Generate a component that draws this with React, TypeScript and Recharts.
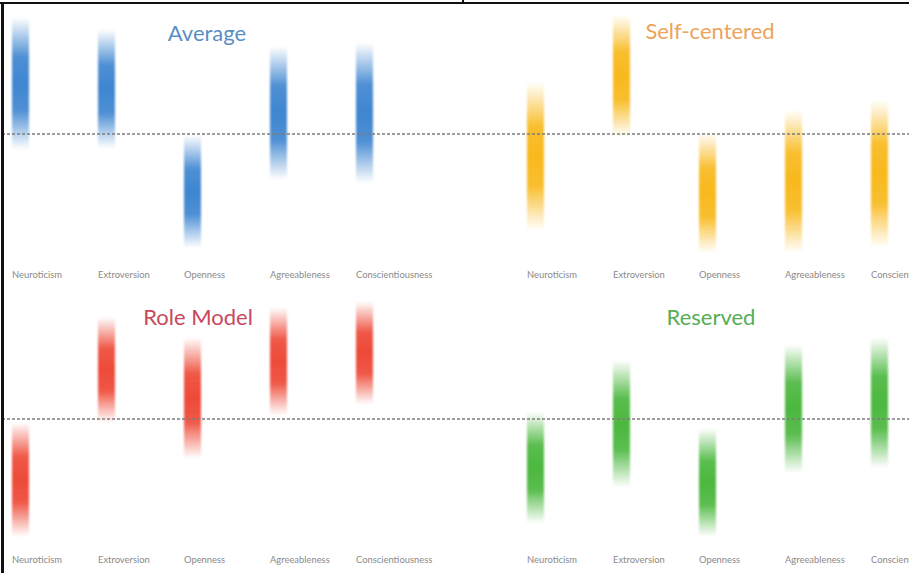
import React from 'react';
import { BarChart, Bar, XAxis, YAxis, ReferenceLine } from 'recharts';

const categories = ['Neuroticism', 'Extroversion', 'Openness', 'Agreeableness', 'Conscientiousness'];

const averageLow = [-0.13, -0.12, -0.95, -0.38, -0.41];
const averageHigh = [0.97, 0.87, -0.01, 0.73, 0.76];

const selfCenteredLow = [-0.8, -0.02, -0.99, -0.99, -0.94];
const selfCenteredHigh = [0.43, 0.99, 0.01, 0.2, 0.28];

const roleModelLow = [-0.98, -0.03, -0.33, 0.03, 0.12];
const roleModelHigh = [-0.03, 0.85, 0.68, 0.93, 0.98];

const reservedLow = [-0.87, -0.57, -0.98, -0.45, -0.41];
const reservedHigh = [0.06, 0.49, -0.08, 0.62, 0.68];

const FONT = 'Lato, "Open Sans", sans-serif';

const Tick = (props: any) => {
  const { x, y, payload } = props;
  return (
    <text x={x - 8} y={y + 16} fontSize={9.4} fill="#8a8a8a" fontFamily={FONT}>
      {payload.value}
    </text>
  );
};

type PanelProps = {
  id: string;
  title: string;
  titleColor: string;
  color: string;
  lows: number[];
  highs: number[];
  left: number;
  top: number;
  width: number;
  padRight: number;
  titleX: number;
  titleY: number;
};

const Panel = ({ id, title, titleColor, color, lows, highs, left, top, width, padRight, titleX, titleY }: PanelProps) => {
  const data = categories.map((name, i) => ({ name, range: [lows[i], highs[i]] }));
  const gid = `grad-${id}`;
  const fid = `blur-${id}`;
  const Shape = (p: any) => {
    const { x, y, width: w, height: h } = p;
    const yy = h < 0 ? y + h : y;
    const hh = Math.abs(h);
    return <rect x={x} y={yy} width={w} height={hh} fill={`url(#${gid})`} filter={`url(#${fid})`} />;
  };
  return (
    <>
      <div style={{ position: 'absolute', left, top }}>
        <BarChart width={width} height={290} data={data} margin={{ top: 14, right: 0, bottom: 6, left: 0 }}>
          <defs>
            <linearGradient id={gid} x1="0" y1="0" x2="0" y2="1">
              <stop offset="0" stopColor={color} stopOpacity={0} />
              <stop offset="0.3" stopColor={color} stopOpacity={0.92} />
              <stop offset="0.5" stopColor={color} stopOpacity={1} />
              <stop offset="0.7" stopColor={color} stopOpacity={0.92} />
              <stop offset="1" stopColor={color} stopOpacity={0} />
            </linearGradient>
            <filter id={fid} x="-50%" y="-10%" width="200%" height="120%">
              <feGaussianBlur stdDeviation="1" />
            </filter>
          </defs>
          <XAxis
            dataKey="name"
            height={30}
            axisLine={false}
            tickLine={false}
            interval={0}
            tick={<Tick />}
            padding={{ left: 0, right: padRight }}
          />
          <YAxis hide type="number" domain={[-1, 1]} allowDataOverflow />
          <ReferenceLine y={0} stroke="#7e7e7e" strokeDasharray="3 2" strokeWidth={1.6} />
          <Bar dataKey="range" barSize={17} shape={Shape} isAnimationActive={false} />
        </BarChart>
      </div>
      <div
        style={{
          position: 'absolute',
          left: titleX - 120,
          top: titleY - 13,
          width: 240,
          textAlign: 'center',
          fontFamily: FONT,
          fontSize: 22,
          lineHeight: '26px',
          color: titleColor,
        }}
      >
        {title}
      </div>
    </>
  );
};

export default function App() {
  return (
    <div
      style={{
        position: 'absolute',
        left: 0,
        top: 0,
        width: 909,
        height: 573,
        overflow: 'hidden',
        background: '#ffffff',
      }}
    >
      <Panel id="avg" title="Average" titleColor="#5a8ec4" color="#3f86d0" lows={averageLow} highs={averageHigh}
        left={-23} top={0} width={515} padRight={85} titleX={207} titleY={33} />
      <Panel id="self" title="Self-centered" titleColor="#eba45c" color="#f8b91c" lows={selfCenteredLow} highs={selfCenteredHigh}
        left={492} top={0} width={430} padRight={0} titleX={710} titleY={31} />
      <Panel id="role" title="Role Model" titleColor="#c9485d" color="#ee4a38" lows={roleModelLow} highs={roleModelHigh}
        left={-23} top={285} width={515} padRight={85} titleX={198} titleY={317} />
      <Panel id="res" title="Reserved" titleColor="#56ad56" color="#4cb83f" lows={reservedLow} highs={reservedHigh}
        left={492} top={285} width={430} padRight={0} titleX={711} titleY={317} />
      <div style={{ position: 'absolute', left: 0, top: 2, width: 909, height: 2, background: '#111' }} />
      <div style={{ position: 'absolute', left: 1, top: 2, width: 3, height: 571, background: '#111' }} />
      <div style={{ position: 'absolute', left: 462, top: 0, width: 2, height: 3, background: '#111' }} />
    </div>
  );
}
